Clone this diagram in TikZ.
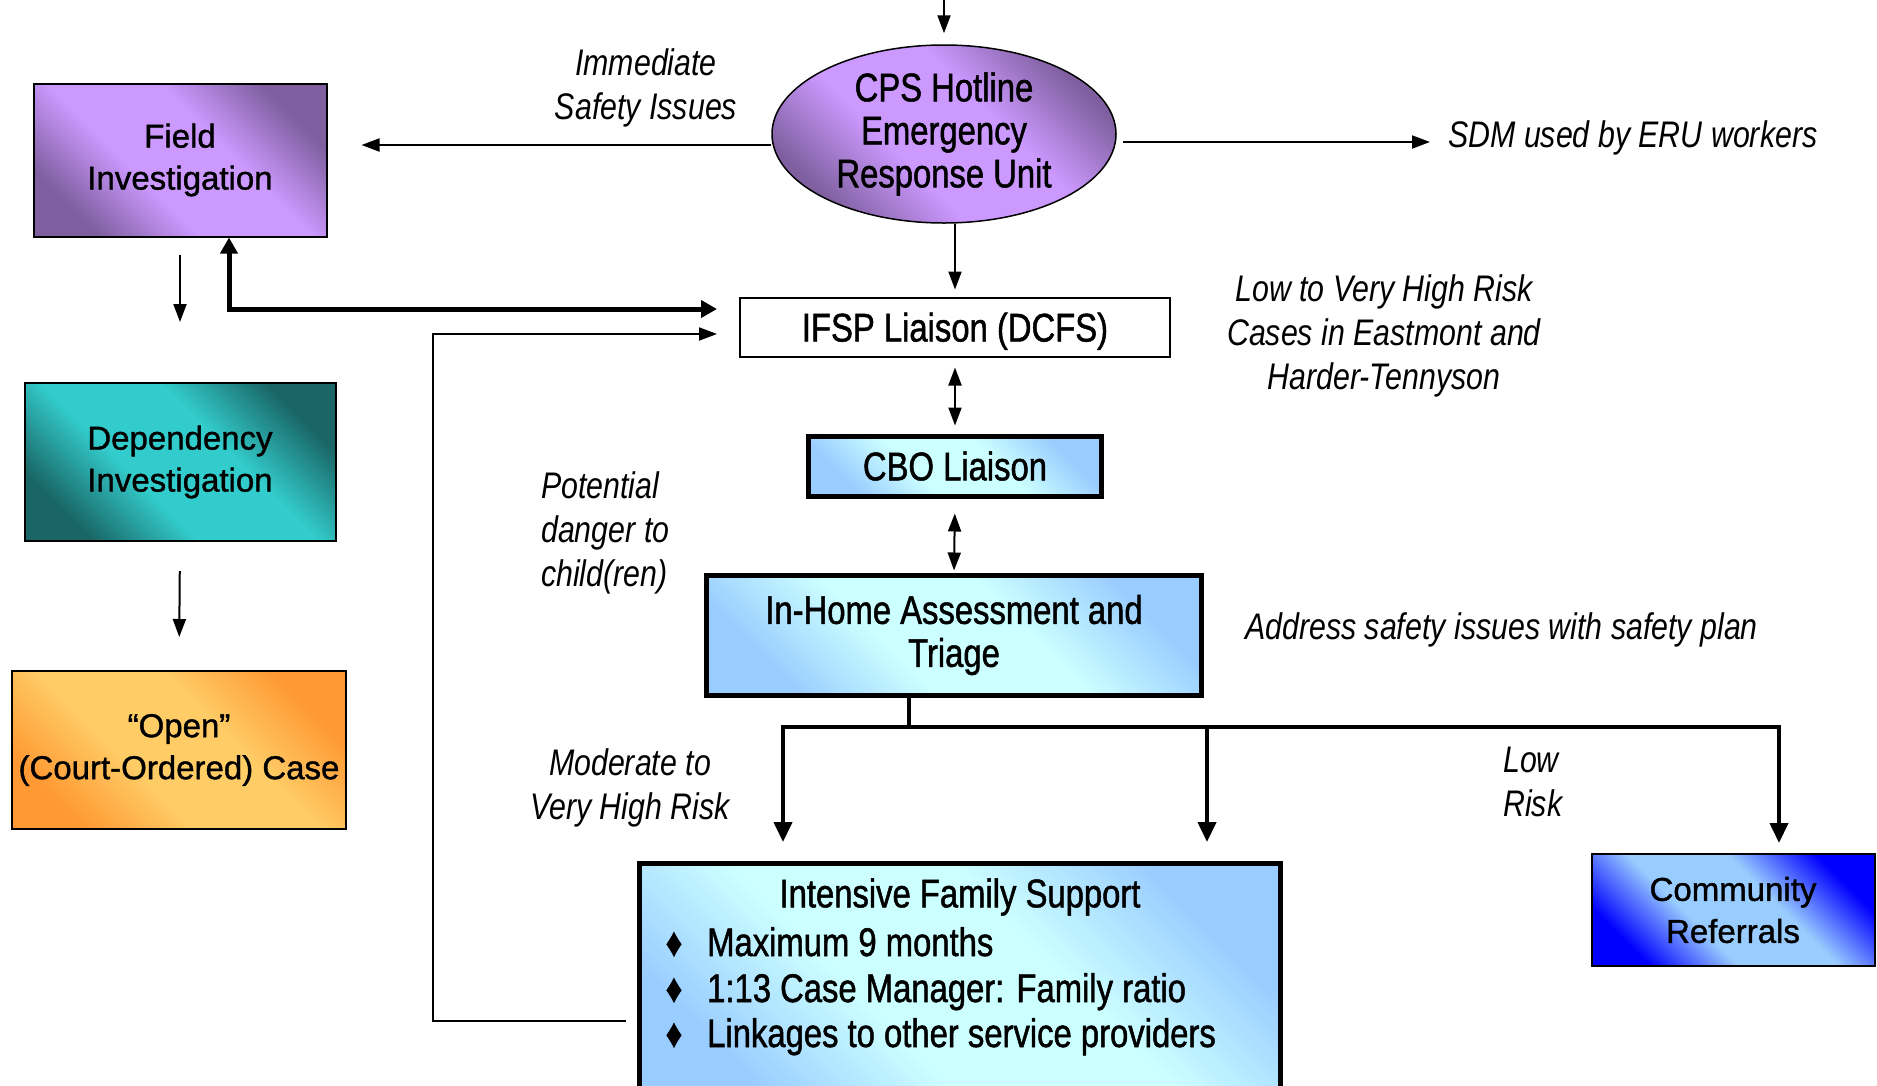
\documentclass[tikz,border=0pt]{standalone}
\usepackage{fontspec}
\setmainfont{Liberation Sans}
\newfontfamily\boxfont[FakeBold=1.2]{Liberation Sans}
\newfontfamily\narrowfont[FakeStretch=0.82,FakeBold=1.2]{Liberation Sans}
\newfontfamily\notefont[FakeStretch=0.82]{Liberation Sans}
\usepackage{xcolor}
\usepackage{tikz}
\usetikzlibrary{shapes.geometric,calc,arrows.meta}

\definecolor{purplelight}{HTML}{CC99FF}
\definecolor{purpledark}{HTML}{7F5F9F}
\definecolor{teallight}{HTML}{33CCCC}
\definecolor{tealdark}{HTML}{1A6666}
\definecolor{orangelight}{HTML}{FFCC66}
\definecolor{orangedark}{HTML}{FF9933}
\definecolor{cyanlight}{HTML}{CCFFFF}
\definecolor{skyblue}{HTML}{99CCFF}
\definecolor{deepblue}{HTML}{0000FF}
\colorlet{gdark}{purpledark}
\colorlet{glight}{purplelight}

% light band along one diagonal, dark in the two other corners
\pgfdeclareverticalshading[gdark,glight]{diagshade}{100bp}{color(0bp)=(gdark); color(25bp)=(gdark);
    color(41bp)=(glight); color(59bp)=(glight); color(75bp)=(gdark); color(100bp)=(gdark)}

\tikzset{
    grad/.style 2 args={/utils/exec={\colorlet{gdark}{#1}\colorlet{glight}{#2}}, shade, shading=diagshade, shading angle=-45},
    wide/.style={font=\boxfont\fontsize{33}{42}\selectfont, align=center},
    narrow/.style={font=\narrowfont\fontsize{40}{43}\selectfont, align=center},
    listtext/.style={font=\narrowfont\fontsize{40}{43}\selectfont, inner sep=0pt},
    note/.style={font=\notefont\itshape\fontsize{37}{44}\selectfont, inner sep=0pt, align=center},
    sidebox/.style={draw, line width=2pt, wide},
    midbox/.style={draw, line width=5pt, narrow, grad={skyblue}{cyanlight}},
    arr/.style={line width=2pt, -{Triangle[length=18pt,width=13pt]}},
    dbl/.style={line width=2pt, {Triangle[length=18pt,width=13pt]}-{Triangle[length=18pt,width=13pt]}},
    bold/.style={line width=5pt, {Triangle[length=16pt,width=17pt]}-{Triangle[length=16pt,width=17pt]}},
    tree/.style={line width=4pt},
    treearr/.style={line width=4pt, -{Triangle[length=20pt,width=18pt]}}
}

\begin{document}
\begin{tikzpicture}[x=1pt, y=-1pt]
    \useasboundingbox (0,0) rectangle (1877,1085);

    % Hotline
    \node[draw, ellipse, line width=1.5pt, inner sep=0pt, narrow, grad={purpledark}{purplelight},
          minimum width=344pt, minimum height=178pt] (hotline) at (944,134) {CPS Hotline\\Emergency\\Response Unit};
    \coordinate (call) at (944,0);
    \draw[arr, shorten >=11pt] (call) -- (hotline.north);

    % Left column
    \node[sidebox, grad={purpledark}{purplelight}, minimum width=293pt, minimum height=153pt] (field) at (180,160) {Field\\Investigation};
    \node[sidebox, grad={tealdark}{teallight}, minimum width=311pt, minimum height=158pt] (dep) at (180,462) {Dependency\\Investigation};
    \node[sidebox, grad={orangedark}{orangelight}, minimum width=334pt, minimum height=158pt] (open) at (179,750) {“Open”\\(Court-Ordered) Case};
    \draw[arr, shorten <=17pt, shorten >=60pt] (field.south) -- (dep.north);
    \draw[arr, shorten <=29pt, shorten >=33pt] (dep.south) -- (open.north);

    % Middle column
    \node[draw, line width=2pt, fill=white, narrow, text depth=0pt, minimum width=430pt, minimum height=59pt] (ifsp) at (955,327) {IFSP Liaison (DCFS)};
    \node[midbox, minimum width=293pt, minimum height=60pt] (cbo) at (955,466) {CBO Liaison};
    \node[midbox, minimum width=495pt, minimum height=120pt] (inhome) at (954,635) {In-Home Assessment and\\Triage};
    \node[midbox, minimum width=641pt, minimum height=240pt] (ifs) at (960,983.5) {};
    \node[narrow, inner sep=0pt] (ifstitle) at (960,897) {Intensive Family Support};
    \foreach \y/\t in {956/Maximum 9 months, 1002/1:13 Case Manager: Family ratio, 1047/Linkages to other service providers} {
        \node[listtext, anchor=base] (dot\y) at (674,\y) {♦};
        \node[listtext, anchor=base west] (item\y) at (707,\y) {\t};
    }
    \node[sidebox, grad={deepblue}{skyblue}, minimum width=283pt, minimum height=112pt] (comm) at (1733,910) {Community\\Referrals};

    % Notes
    \node[note] (imm) at (646,88) {Immediate\\Safety Issues};
    \node[note, anchor=west] (sdm) at (1448,138) {SDM used by ERU workers};
    \node[note] (risk) at (1384,336) {Low to Very High Risk\\Cases in Eastmont and\\Harder-Tennyson};
    \node[note, align=left, anchor=west] (danger) at (541,533) {Potential\\danger to\\child(ren)};
    \node[note, anchor=west] (safety) at (1245,630) {Address safety issues with safety plan};
    \node[note] (modrisk) at (630,788) {Moderate to\\Very High Risk};
    \node[note, align=left, anchor=west] (lowrisk) at (1503,782) {Low\\Risk};

    % Hotline out
    \coordinate (hl) at ([yshift=-11pt]hotline.west);
    \coordinate (hr) at ([yshift=-8pt]hotline.east);
    \coordinate (fieldtip) at ([xshift=34pt]field.east);
    \draw[arr] (hl) -- (hl -| fieldtip);
    \draw[arr, shorten <=6pt, shorten >=18pt] (hr) -- (hr -| sdm.west);
    \draw[arr, shorten >=7pt] (ifsp.north |- hotline.south) -- (ifsp.north);
    \draw[dbl, shorten <=10pt, shorten >=8pt] (ifsp.south) -- (cbo.north);
    \draw[dbl, shorten <=15pt, shorten >=2pt] (cbo.south) -- (inhome.north);

    % Field <-> liaison
    \coordinate (fieldin) at ([xshift=49pt]field.south);
    \coordinate (ifspa) at ([yshift=18pt]ifsp.west);
    \draw[bold, shorten >=22pt] (fieldin) |- (ifspa);

    % Back from family support
    \coordinate (backfrom) at ([xshift=-11pt,yshift=-37pt]ifs.west);
    \coordinate (backx) at (433,0);
    \coordinate (ifspb) at ([yshift=-7pt]ifsp.west);
    \draw[arr, shorten >=22pt] (backfrom) -- (backfrom -| backx) |- (ifspb);

    % Branches
    \coordinate (split) at (909,727);
    \coordinate (brleft) at (783,727);
    \coordinate (brmid) at (1207,727);
    \coordinate (brright) at (1779,727);
    \draw[tree] (inhome.south -| split) -- (split);
    \draw[treearr, shorten >=19pt] (split) -| (brleft |- ifs.north);
    \draw[treearr, shorten >=19pt] (brmid) -- (brmid |- ifs.north);
    \draw[treearr, shorten >=10pt] (split) -| (brright |- comm.north);
\end{tikzpicture}
\end{document}
